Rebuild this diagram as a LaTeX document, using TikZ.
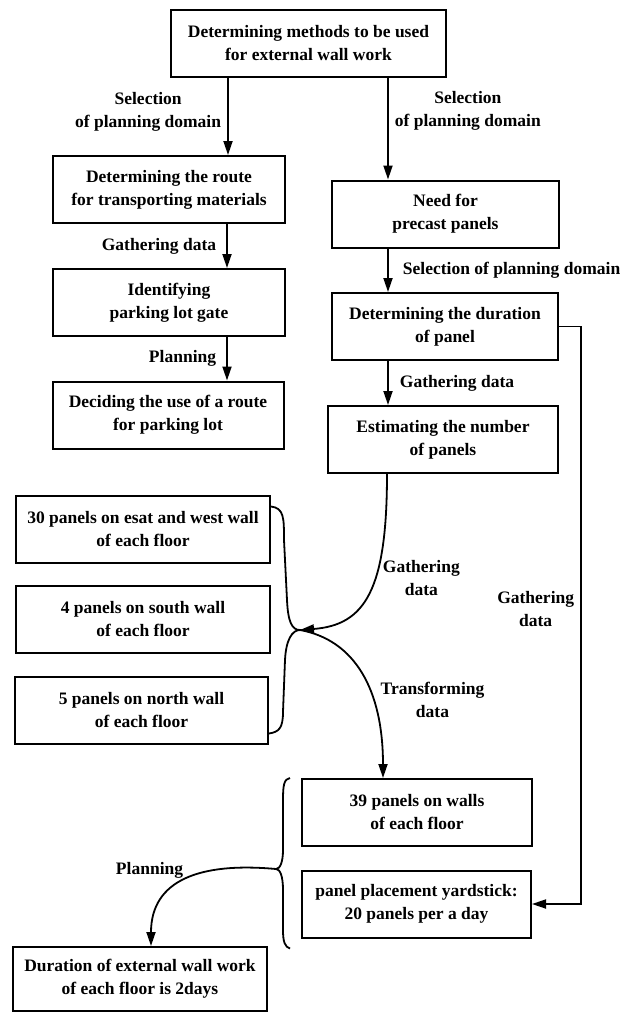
\documentclass[tikz,border=0pt]{standalone}
\usepackage{fontspec}
\setmainfont{Liberation Serif}
\usepackage{tikz}
\usetikzlibrary{positioning, arrows.meta}

\begin{document}
\begin{tikzpicture}[x=1pt, y=-1pt,
        every node/.style={font=\bfseries\fontsize{17.5}{23}\selectfont, align=center},
        box/.style={draw, line width=2pt, minimum height=67pt, inner sep=2pt},
        arr/.style={line width=1.8pt, -{Triangle[length=14pt, width=9pt]}},
        brace/.style={line width=1.8pt}]
        \useasboundingbox (0,0) rectangle (620,1013);

        \node[box, minimum width=275pt] (top) at (308.5,43) {Determining methods to be used\\for external wall work};

        \node[box, minimum width=232pt] (route) at (169,189.5) {Determining the route\\for transporting materials};
        \node[box, minimum width=232pt] (gate) at (169,302.5) {Identifying\\parking lot gate};
        \node[box, minimum width=231pt] (decide) at (168,415) {Deciding the use of a route\\for parking lot};

        \node[box, minimum width=227pt] (need) at (445.5,214) {Need for\\precast panels};
        \node[box, minimum width=226pt] (dur) at (445,326.5) {Determining the duration\\of panel};
        \node[box, minimum width=230pt] (est) at (443,439.5) {Estimating the number\\of panels};

        \node[box, minimum width=254pt] (ew) at (143,529) {30 panels on esat and west wall\\of each floor};
        \node[box, minimum width=254pt] (south) at (143,619.5) {4 panels on south wall\\of each floor};
        \node[box, minimum width=253pt] (north) at (141.5,710) {5 panels on north wall\\of each floor};

        \node[box, minimum width=230pt] (walls) at (417,812.5) {39 panels on walls\\of each floor};
        \node[box, minimum width=229pt] (rate) at (416.5,904) {panel placement yardstick:\\20 panels per a day};

        \node[box, minimum width=254pt, minimum height=64pt] (result) at (140,979) {Duration of external wall work\\of each floor is 2days};

        \coordinate (J) at (300,630);
        \coordinate (K) at (276,869);

        % Left column
        \draw[arr] ([xshift=-80.5pt]top.south) -- node [pos=0.44, left, inner sep=6pt] {Selection\\of planning domain} ([xshift=59pt]route.north);
        \draw[arr] ([xshift=58pt]route.south) -- node [midway, left, inner sep=10pt] {Gathering data} ([xshift=58pt]gate.north);
        \draw[arr] ([xshift=58pt]gate.south) -- node [midway, left, inner sep=10pt] {Planning} ([xshift=59pt]decide.north);

        % Right column
        \draw[arr] ([xshift=79.5pt]top.south) -- node [pos=0.33, right, inner sep=6pt] {Selection\\of planning domain} ([xshift=-57.5pt]need.north);
        \draw[arr] ([xshift=-57.5pt]need.south) -- node [midway, right, inner sep=14pt] {Selection of planning domain} ([xshift=-57pt]dur.north);
        \draw[arr] ([xshift=-57pt]dur.south) -- node [midway, right, inner sep=11pt] {Gathering data} ([xshift=-55pt]est.north);

        % Braces
        \draw[brace] ([yshift=-12pt]ew.north east) .. controls (284,508) and (284,518) .. (284,540) -- (287,600)
            .. controls (288,622) and (292,630) .. (J) .. controls (292,630) and (286,640) .. (285,660) -- (283,712)
            .. controls (283,728) and (279,732) .. ([yshift=11pt]north.south east);
        \draw[brace] ([xshift=-11pt]walls.north west) .. controls (284,779) and (283,785) .. (283,800) -- (283,850)
            .. controls (283,862) and (280,869) .. (K) .. controls (280,869) and (283,876) .. (283,890) -- (283,930)
            .. controls (283,942) and (285,947) .. ([xshift=-11pt, yshift=-10pt]rate.south west);

        % Curved flows
        \draw[arr] ([xshift=-56pt]est.south) .. controls (387,590) and (365,625) .. (J) node [pos=0.4, right, inner sep=7pt] {Gathering\\data};
        \draw[arr] (J) .. controls (355,640) and (383,690) .. ([xshift=-34pt]walls.north) node [pos=0.65, right, inner sep=7pt] {Transforming\\data};
        \draw[arr] (K) .. controls (200,862) and (151,880) .. ([xshift=11pt]result.north) node [pos=0.5, anchor=south east, inner sep=1pt] {Planning};

        % Feedback
        \draw[arr] (dur.east) -- ++(22,0) |- node [pos=0.245, left, inner sep=6pt] {Gathering\\data} (rate.east);
    \end{tikzpicture}
\end{document}
